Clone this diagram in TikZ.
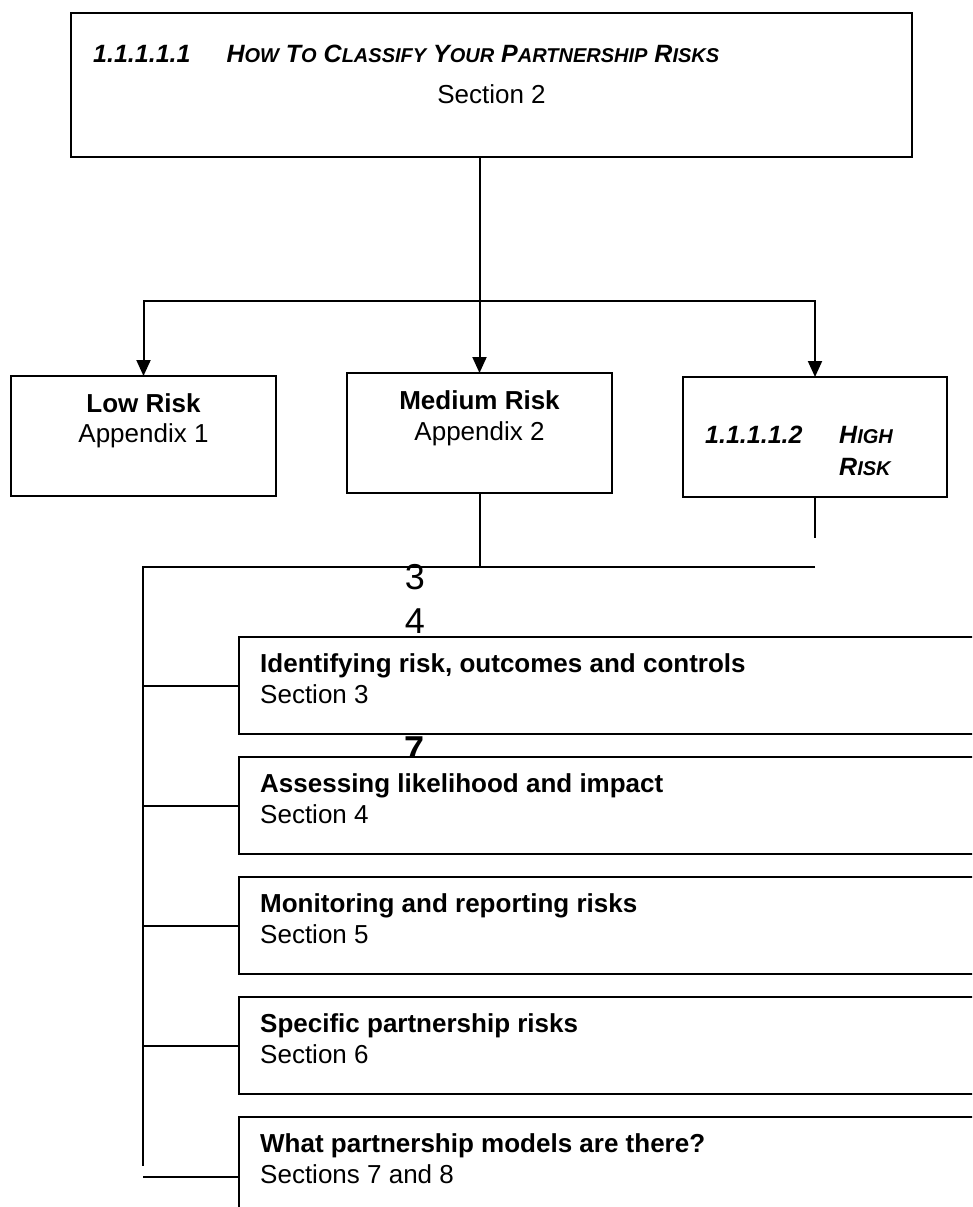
\documentclass[tikz,border=0pt]{standalone}
\usepackage{fontspec}
\setmainfont{Liberation Sans}
\usepackage{tikz}
\usetikzlibrary{arrows.meta}
% faked small capitals for the numbered headings
\newcommand{\scap}[1]{{\fontsize{20}{24}\selectfont #1}}
\tikzset{
  box/.style={draw, line width=2pt, fill=white, inner sep=0pt, outer sep=0pt,
              anchor=north west},
  ttl/.style={font=\fontsize{26}{30}\selectfont\bfseries, inner sep=0pt},
  sub/.style={font=\fontsize{26}{30}\selectfont, inner sep=0pt},
  hdg/.style={font=\fontsize{25}{30}\selectfont\bfseries\itshape, inner sep=0pt},
  stray/.style={font=\fontsize{36}{40}\selectfont, inner sep=0pt, anchor=base},
  con/.style={line width=2pt},
  arr/.style={-{Triangle[width=14pt,length=16pt]}, line width=2pt},
}

\begin{document}
\begin{tikzpicture}[x=1pt, y=-1pt]
  \useasboundingbox (0,0) rectangle (972,1207);
  \clip (0,0) rectangle (972,1207);

  % stray numbers left over in the source
  \node[stray] (n3) at (415,589) {3};
  \node[stray] (n4) at (415,633) {4};
  \node[stray, font=\fontsize{36}{40}\selectfont\bfseries] (n7) at (415,761) {7};

  % heading box
  \node[box, minimum width=841pt, minimum height=144pt] (top) at (71,13) {};
  \node[hdg, anchor=base west] (topT) at ([shift={(22,50)}]top.north west)
    {1.1.1.1.1\hspace*{36pt}H\scap{OW} T\scap{O} C\scap{LASSIFY} Y\scap{OUR} P\scap{ARTNERSHIP} R\scap{ISKS}};
  \node[sub, anchor=base] (topS) at ([shift={(0,90)}]top.north) {Section 2};

  % risk levels
  \node[box, minimum width=265pt, minimum height=120pt] (low) at (11,376) {};
  \node[ttl, anchor=base] (lowT) at ([shift={(0,36)}]low.north) {Low Risk};
  \node[sub, anchor=base] (lowS) at ([shift={(0,66)}]low.north) {Appendix 1};

  \node[box, minimum width=265pt, minimum height=120pt] (med) at (347,373) {};
  \node[ttl, anchor=base] (medT) at ([shift={(0,36)}]med.north) {Medium Risk};
  \node[sub, anchor=base] (medS) at ([shift={(0,67)}]med.north) {Appendix 2};

  \node[box, minimum width=264pt, minimum height=120pt] (high) at (683,377) {};
  \node[hdg, anchor=base west] (highN) at ([shift={(22,66)}]high.north west) {1.1.1.1.2};
  \node[hdg, anchor=base west] (highA) at ([shift={(156,66)}]high.north west) {H\scap{IGH}};
  \node[hdg, anchor=base west] (highB) at ([shift={(156,98)}]high.north west) {R\scap{ISK}};

  % sections
  \node[box, minimum width=780pt, minimum height=97pt] (b1) at (239,637) {};
  \node[ttl, anchor=base west] (b1T) at ([shift={(21,35)}]b1.north west) {Identifying risk, outcomes and controls};
  \node[sub, anchor=base west] (b1S) at ([shift={(21,66)}]b1.north west) {Section 3};

  \node[box, minimum width=780pt, minimum height=97pt] (b2) at (239,757) {};
  \node[ttl, anchor=base west] (b2T) at ([shift={(21,35)}]b2.north west) {Assessing likelihood and impact};
  \node[sub, anchor=base west] (b2S) at ([shift={(21,66)}]b2.north west) {Section 4};

  \node[box, minimum width=780pt, minimum height=97pt] (b3) at (239,877) {};
  \node[ttl, anchor=base west] (b3T) at ([shift={(21,35)}]b3.north west) {Monitoring and reporting risks};
  \node[sub, anchor=base west] (b3S) at ([shift={(21,66)}]b3.north west) {Section 5};

  \node[box, minimum width=780pt, minimum height=97pt] (b4) at (239,997) {};
  \node[ttl, anchor=base west] (b4T) at ([shift={(21,35)}]b4.north west) {Specific partnership risks};
  \node[sub, anchor=base west] (b4S) at ([shift={(21,66)}]b4.north west) {Section 6};

  \node[box, minimum width=780pt, minimum height=120pt] (b5) at (239,1117) {};
  \node[ttl, anchor=base west] (b5T) at ([shift={(21,35)}]b5.north west) {What partnership models are there?};
  \node[sub, anchor=base west] (b5S) at ([shift={(21,66)}]b5.north west) {Sections 7 and 8};

  % connectors
  \coordinate (hbar) at (480,301);
  \coordinate (brk) at (143,567);
  \coordinate (railend) at (143,1166);
  \coordinate (hstem) at ([shift={(0,41)}]high.south);

  \draw[arr] (top.south -| med.north) -- (med.north);
  \draw[con, {Triangle[width=14pt,length=16pt]}-{Triangle[width=14pt,length=16pt]}]
    (low.north) -- (low.north |- hbar) -- (high.north |- hbar) -- (high.north);

  \draw[con] (med.south) -- (med.south |- brk);
  \draw[con] (high.south) -- (hstem);
  \draw[con] (high.south |- brk) -- (brk) -- (railend);
  \draw[con] (b1.west -| brk) -- (b1.west);
  \draw[con] (b2.west -| brk) -- (b2.west);
  \draw[con] (b3.west -| brk) -- (b3.west);
  \draw[con] (b4.west -| brk) -- (b4.west);
  \draw[con] (b5.west -| brk) -- (b5.west);
\end{tikzpicture}
\end{document}
